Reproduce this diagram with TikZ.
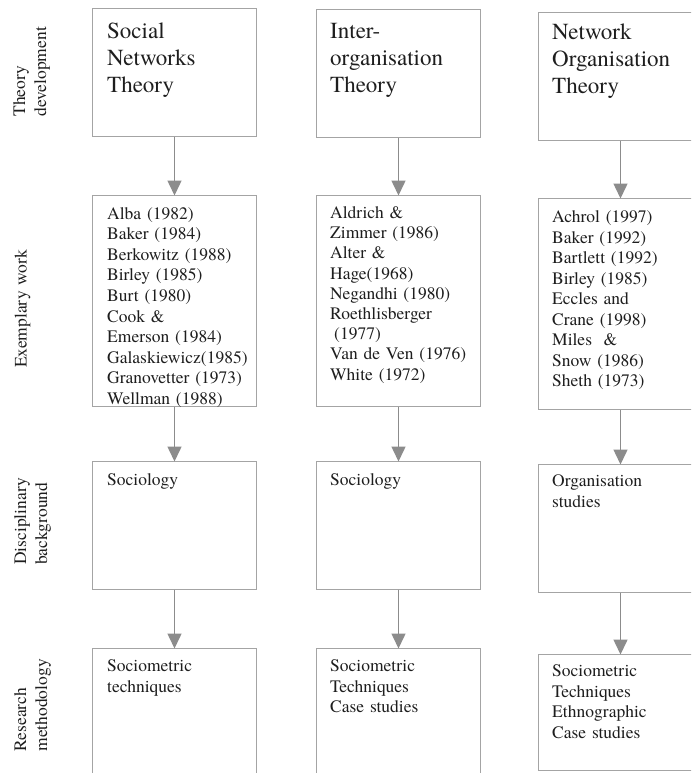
\documentclass[tikz,border=0pt]{standalone}
\usepackage{fontspec}
\setmainfont{texgyretermes-regular.otf}
\usetikzlibrary{arrows.meta,calc}
\definecolor{boxline}{HTML}{A4A4A4}
\definecolor{arrowline}{HTML}{8C8C8C}
\definecolor{ink}{HTML}{1E1E1E}
\begin{document}
\begin{tikzpicture}[x=1pt,y=-1pt,
  box/.style={draw=boxline, line width=1pt, minimum width=164pt, anchor=north west, inner sep=0pt, outer sep=0pt},
  flow/.style={draw=arrowline, line width=1.5pt, -{Triangle[length=15pt,width=14pt]}},
  titletext/.style={anchor=base west, inner sep=0pt, text width=150pt, align=left, text=ink, font=\fontsize{23pt}{27pt}\selectfont},
  bodytext/.style={anchor=base west, inner sep=0pt, text width=150pt, align=left, text=ink, font=\fontsize{17.5pt}{20.5pt}\selectfont},
  rowlabel/.style={anchor=base west, rotate=90, inner sep=0pt, text width=120pt, align=left, text=ink, font=\fontsize{17.5pt}{21pt}\selectfont}]

\useasboundingbox (0,0) rectangle (691,773);
\clip (0,0) rectangle (691,773);

% row labels
\node[rowlabel] (lab1) at (25,116.7) {Theory\\development};
\node[rowlabel] (lab2) at (26.5,368) {Exemplary work};
\node[rowlabel] (lab3) at (26,565) {Disciplinary\\background};
\node[rowlabel] (lab4) at (26,751.7) {Research\\methodology};

% theory development
\node[box, minimum height=128pt] (r1c1) at (92.5,8.5) {};
\node[box, minimum height=128pt] (r1c2) at (316.5,9.5) {};
\node[box, minimum height=128pt] (r1c3) at (538.5,12.5) {};

% exemplary work
\node[box, minimum height=211pt] (r2c1) at (92.5,195.5) {};
\node[box, minimum height=211pt] (r2c2) at (316.5,195.5) {};
\node[box, minimum height=211pt] (r2c3) at (538.5,198.5) {};

% disciplinary background
\node[box, minimum height=128pt] (r3c1) at (92.5,461.5) {};
\node[box, minimum height=128pt] (r3c2) at (316.5,461.5) {};
\node[box, minimum height=128pt] (r3c3) at (538.5,464.5) {};

% research methodology
\node[box, minimum height=140pt] (r4c1) at (92.5,648.5) {};
\node[box, minimum height=140pt] (r4c2) at (316.5,648.5) {};
\node[box, minimum height=116pt] (r4c3) at (538.5,654.5) {};

% box contents
\node[titletext] (t1c1) at ($(r1c1.north west)+(14.5,30)$) {Social\\Networks\\Theory};
\node[titletext] (t1c2) at ($(r1c2.north west)+(13.5,29)$) {Inter-\\organisation\\Theory};
\node[titletext] (t1c3) at ($(r1c3.north west)+(13.5,27.5)$) {Network\\Organisation\\Theory};

\node[bodytext, font=\fontsize{17.5pt}{20.55pt}\selectfont] (t2c1) at ($(r2c1.north west)+(14.5,23.8)$)
  {Alba (1982)\\Baker (1984)\\Berkowitz (1988)\\Birley (1985)\\Burt (1980)\\Cook \&\\Emerson (1984)\\Galaskiewicz(1985)\\Granovetter (1973)\\Wellman (1988)};
\node[bodytext, font=\fontsize{17.5pt}{20.2pt}\selectfont] (t2c2) at ($(r2c2.north west)+(13.5,23)$)
  {Aldrich \&\\Zimmer (1986)\\Alter \&\\Hage(1968)\\Negandhi (1980)\\Roethlisberger\\\hspace*{4pt}(1977)\\Van de Ven (1976)\\White (1972)};
\node[bodytext] (t2c3) at ($(r2c3.north west)+(13.5,24.2)$)
  {Achrol (1997)\\Baker (1992)\\Bartlett (1992)\\Birley (1985)\\Eccles and\\Crane (1998)\\Miles\ \ \&\\Snow (1986)\\Sheth (1973)};

\node[bodytext] (t3c1) at ($(r3c1.north west)+(14.5,23.5)$) {Sociology};
\node[bodytext] (t3c2) at ($(r3c2.north west)+(13.5,23.5)$) {Sociology};
\node[bodytext] (t3c3) at ($(r3c3.north west)+(13.5,22.2)$) {Organisation\\studies};

\node[bodytext] (t4c1) at ($(r4c1.north west)+(14.5,23.4)$) {Sociometric\\techniques};
\node[bodytext] (t4c2) at ($(r4c2.north west)+(13.5,23.4)$) {Sociometric\\Techniques\\Case studies};
\node[bodytext] (t4c3) at ($(r4c3.north west)+(13.5,22.2)$) {Sociometric\\Techniques\\Ethnographic\\Case studies};

% connectors
\foreach \c in {1,2,3}{
  \draw[flow] (r1c\c.south) -- (r2c\c.north);
  \draw[flow] (r2c\c.south) -- (r3c\c.north);
  \draw[flow] (r3c\c.south) -- (r4c\c.north);
}
\end{tikzpicture}
\end{document}
